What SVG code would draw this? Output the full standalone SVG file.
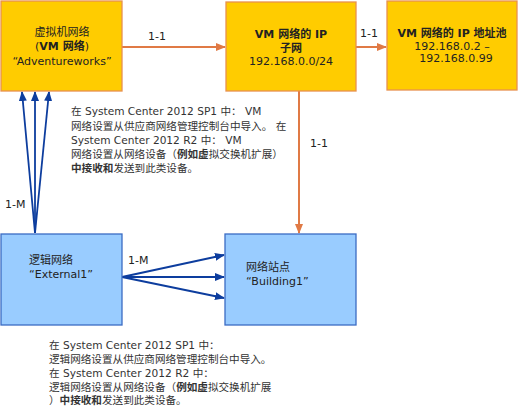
<svg xmlns="http://www.w3.org/2000/svg" width="518" height="407" viewBox="0 0 518 407">
<style>
text{font-family:"DejaVu Sans","Noto Sans CJK SC",sans-serif;font-size:11px;fill:#222}
.gold{fill:#FFCC00;stroke:#E8914F;stroke-width:1.3}
.blue{fill:#99CCFF;stroke:#3B6CC4;stroke-width:1.3}
.b{font-weight:bold}
.o{stroke:#E07A45;stroke-width:2;fill:none}
.bl{stroke:#0D3D9E;stroke-width:1.8;fill:none}
.note{fill:#333;font-size:10.6px}
</style>
<defs>
<marker id="ao" markerWidth="10" markerHeight="8" refX="9" refY="4" orient="auto" markerUnits="userSpaceOnUse"><path d="M0,0L10,4L0,8Z" fill="#E07A45"/></marker>
<marker id="ab" markerWidth="10" markerHeight="8" refX="9" refY="4" orient="auto" markerUnits="userSpaceOnUse"><path d="M0,0L10,4L0,8Z" fill="#0D3D9E"/></marker>
</defs>
<g id="connectors">
<line class="o" x1="122" y1="47" x2="225" y2="47" marker-end="url(#ao)"/>
<line class="o" x1="356" y1="47" x2="386" y2="47" marker-end="url(#ao)"/>
<line class="o" x1="299" y1="91" x2="299" y2="233" marker-end="url(#ao)"/>
<line class="bl" x1="35" y1="233" x2="22" y2="92" marker-end="url(#ab)"/>
<line class="bl" x1="35" y1="233" x2="35" y2="92" marker-end="url(#ab)"/>
<line class="bl" x1="35" y1="233" x2="49" y2="92" marker-end="url(#ab)"/>
<line class="bl" x1="122" y1="277" x2="224" y2="255" marker-end="url(#ab)"/>
<line class="bl" x1="122" y1="277" x2="224" y2="277" marker-end="url(#ab)"/>
<line class="bl" x1="122" y1="277" x2="224" y2="298" marker-end="url(#ab)"/>
<text x="148" y="40">1-1</text>
<text x="360" y="37">1-1</text>
<text x="310" y="147">1-1</text>
<text x="5" y="208">1-M</text>
<text x="128" y="264">1-M</text>
</g>
<g id="vmnet">
<rect class="gold" x="1" y="1" width="121" height="90"/>
<text x="62" y="36" text-anchor="middle">虚拟机网络</text>
<text x="62" y="50" text-anchor="middle">(<tspan class="b">VM 网络</tspan>)</text>
<text x="62" y="65" text-anchor="middle">“Adventureworks”</text>
</g>
<g id="subnet">
<rect class="gold" x="226" y="2" width="130" height="89"/>
<text x="291" y="38" text-anchor="middle" class="b">VM 网络的 IP</text>
<text x="291" y="52" text-anchor="middle" class="b">子网</text>
<text x="291" y="65" text-anchor="middle">192.168.0.0/24</text>
</g>
<g id="pool">
<rect class="gold" x="387" y="1" width="130" height="89"/>
<text x="452" y="37" text-anchor="middle" class="b">VM 网络的 IP 地址池</text>
<text x="452" y="50" text-anchor="middle">192.168.0.2 –</text>
<text x="456" y="62" text-anchor="middle">192.168.0.99</text>
</g>
<g id="external1">
<rect class="blue" x="1" y="234" width="121" height="91"/>
<text x="29" y="264">逻辑网络</text>
<text x="29" y="278">“External1”</text>
</g>
<g id="building1">
<rect class="blue" x="225" y="234" width="131" height="91"/>
<text x="246" y="271">网络站点</text>
<text x="246" y="285">“Building1”</text>
</g>
<g id="note1">
<text class="note" x="71" y="115">在 System Center 2012 SP1 中： VM</text>
<text class="note" x="71" y="130">网络设置从供应商网络管理控制台中导入。 在</text>
<text class="note" x="71" y="144">System Center 2012 R2 中： VM</text>
<text class="note" x="71" y="158">网络设置从网络设备（<tspan class="b">例如虚</tspan>拟交换机扩展）</text>
<text class="note" x="71" y="172"><tspan class="b">中接收和</tspan>发送到此类设备。</text>
</g>
<g id="note2">
<text class="note" x="49" y="349">在 System Center 2012 SP1 中：</text>
<text class="note" x="49" y="363">逻辑网络设置从供应商网络管理控制台中导入。</text>
<text class="note" x="49" y="377">在 System Center 2012 R2 中：</text>
<text class="note" x="49" y="391">逻辑网络设置从网络设备（<tspan class="b">例如虚</tspan>拟交换机扩展</text>
<text class="note" x="49" y="404">）<tspan class="b">中接收和</tspan>发送到此类设备。</text>
</g>
</svg>
